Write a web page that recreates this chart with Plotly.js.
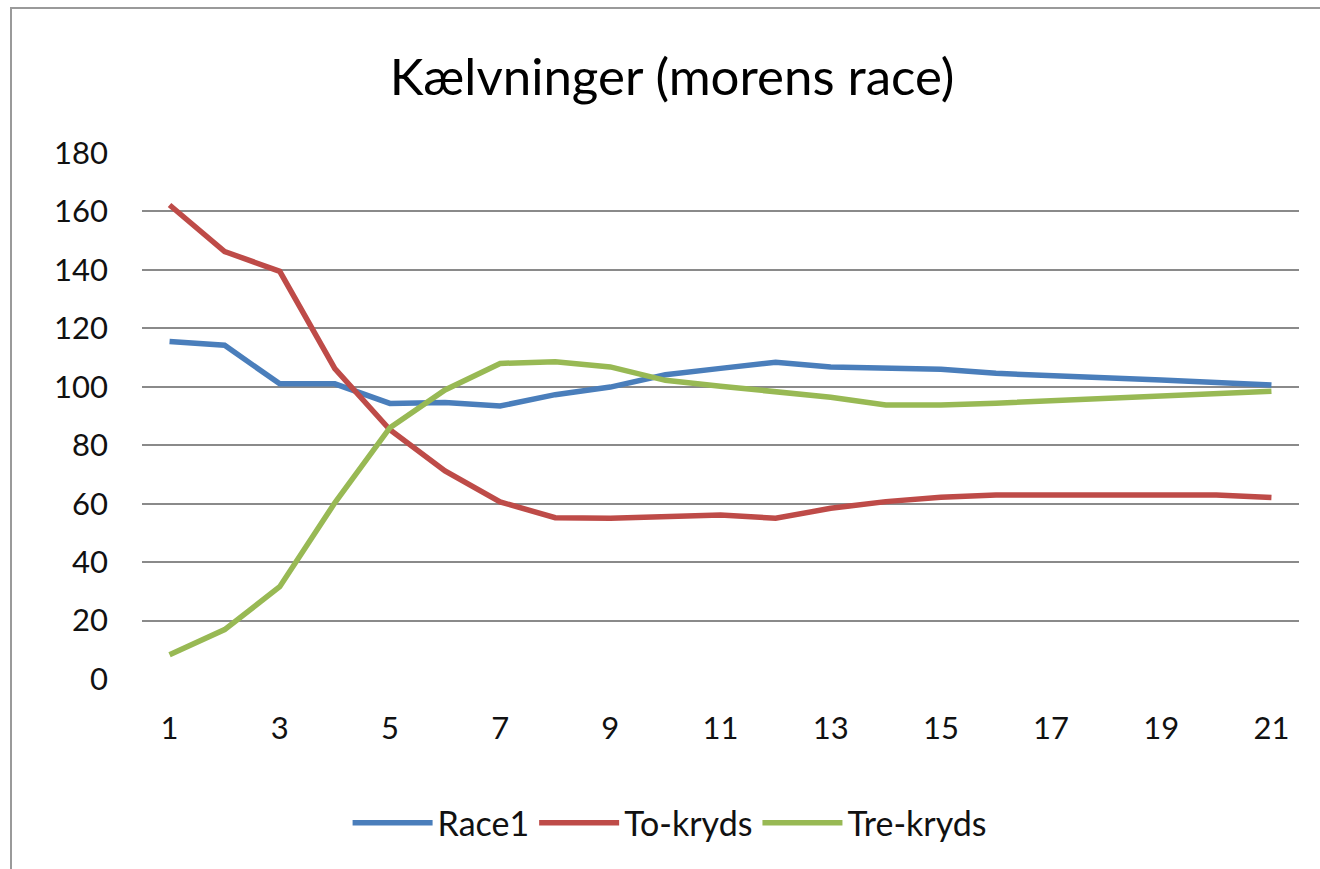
<!DOCTYPE html>
<html>
<head>
<meta charset="utf-8">
<script src="https://cdn.plot.ly/plotly-3.0.1.min.js"></script>
<style>
  html, body { margin: 0; padding: 0; background: #ffffff; width: 1320px; height: 869px; overflow: hidden; }
  #frame { position: absolute; left: 10px; top: 7px; width: 1320px; height: 870px; border-left: 2px solid #9a9a9a; border-top: 2px solid #9a9a9a; }
  #chart { position: absolute; left: 12px; top: 9px; width: 1308px; height: 860px; }
</style>
</head>
<body>
<div id="frame"></div>
<div id="chart"></div>
<script>
const categories = [1, 2, 3, 4, 5, 6, 7, 8, 9, 10, 11, 12, 13, 14, 15, 16, 17, 18, 19, 20, 21];
const race1    = [115.5, 114.2, 101, 101, 94.3, 94.6, 93.4, 97.3, 99.9, 104.1, 106.3, 108.4, 106.8, 106.5, 106, 104.6, 103.7, 103, 102.3, 101.5, 100.6];
const toKryds  = [162.2, 146.3, 139.5, 106.2, 85.3, 71.2, 60.6, 55.2, 55, 55.6, 56.1, 55, 58.4, 60.7, 62.2, 63, 63, 63, 63, 63, 62.1];
const treKryds = [8.3, 16.9, 31.6, 60.3, 86, 98.9, 108, 108.6, 106.8, 102.2, 100.2, 98.1, 96.4, 93.8, 93.8, 94.4, 95.2, 96, 96.9, 97.7, 98.5];
const seriesNames = ["Race1", "To-kryds", "Tre-kryds"];
const xTickVals = [1, 3, 5, 7, 9, 11, 13, 15, 17, 19, 21];
const yTickVals = [0, 20, 40, 60, 80, 100, 120, 140, 160, 180];
const titleText = "Kælvninger (morens race)";

const colors = ["#4A7EBB", "#BE4B48", "#98B954"];
const seriesData = [race1, toKryds, treKryds];
const traces = seriesData.map((ys, i) => ({
  type: "scatter",
  mode: "lines",
  x: categories,
  y: ys,
  name: seriesNames[i],
  line: { color: colors[i], width: 5.5 },
  hoverinfo: "x+y+name"
}));

const layout = {
  width: 1308,
  height: 860,
  margin: { l: 130, r: 21, t: 144, b: 190 },
  paper_bgcolor: "rgba(0,0,0,0)",
  plot_bgcolor: "rgba(0,0,0,0)",
  font: { family: "Lato, sans-serif", color: "#000000", size: 31 },
  title: {
    text: titleText,
    font: { family: "Lato, sans-serif", size: 51, color: "#000000" },
    xref: "container", x: 0.5046, xanchor: "center",
    yref: "container", y: 0.921, yanchor: "middle"
  },
  xaxis: {
    range: [0.5, 21.5],
    tickmode: "array",
    tickvals: xTickVals,
    ticktext: xTickVals.map(String),
    showgrid: false,
    zeroline: false,
    showline: false,
    ticks: "",
    ticklabelstandoff: 28,
    tickfont: { size: 31, family: "Lato, sans-serif", color: "#111" },
    fixedrange: true
  },
  yaxis: {
    range: [0, 180],
    tickmode: "array",
    tickvals: yTickVals,
    showgrid: true,
    gridcolor: "#8a8a8a",
    gridwidth: 2,
    zeroline: false,
    showline: false,
    ticks: "",
    ticklabelstandoff: 33,
    tickfont: { size: 31, family: "Lato, sans-serif", color: "#111" },
    fixedrange: true
  },
  showlegend: true,
  legend: {
    orientation: "h",
    x: 0.456, xanchor: "center",
    y: -0.274, yanchor: "middle",
    font: { size: 34, family: "Lato, sans-serif", color: "#111" },
    itemwidth: 80,
    traceorder: "normal",
    bgcolor: "rgba(0,0,0,0)"
  }
};

Plotly.newPlot("chart", traces, layout, { displayModeBar: false, staticPlot: false });
</script>
</body>
</html>
